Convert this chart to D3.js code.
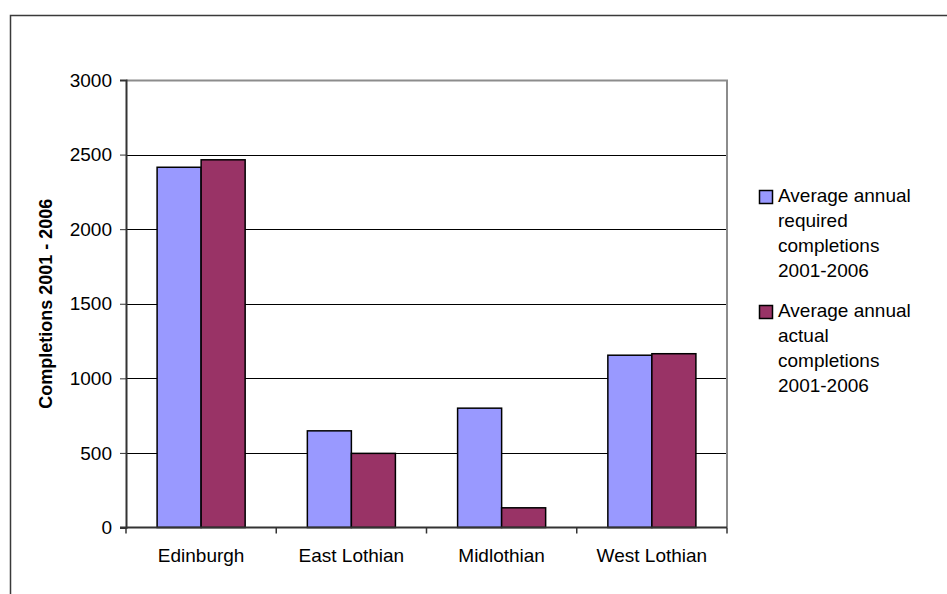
<!DOCTYPE html>
<html>
<head>
<meta charset="utf-8">
<script src="https://cdn.jsdelivr.net/npm/d3@7/dist/d3.min.js"></script>
<style>
  html, body { margin: 0; padding: 0; background: #fff; }
  svg { display: block; font-family: "Liberation Sans", Arial, sans-serif; }
</style>
</head>
<body>
<svg id="chart" width="947" height="594"></svg>
<script>
// Housing completions by council area, 2001-2006
const areas = ["Edinburgh", "East Lothian", "Midlothian", "West Lothian"];
const seriesNames = ["required", "actual"];
const requiredCompletions = [2415, 648, 800, 1155];
const actualCompletions = [2465, 497, 132, 1165];
const yTicks = [0, 500, 1000, 1500, 2000, 2500, 3000];
const legendLines = [
  ["Average annual", "required", "completions", "2001-2006"],
  ["Average annual", "actual", "completions", "2001-2006"]
];
const yTitle = "Completions 2001 - 2006";
const colors = ["#9999ff", "#993366"];

const fontSize = 19;
const svg = d3.select("#chart");

// outer chart frame (top and left edges visible)
svg.append("path")
  .attr("d", "M10.5,594 V15.5 H947")
  .attr("fill", "none")
  .attr("stroke", "#3a3a3a")
  .attr("stroke-width", 1.5);

const plot = { left: 126, right: 727, top: 80, bottom: 527.5 };

const x0 = d3.scaleBand().domain(areas).range([plot.left, plot.right]);
const bw = x0.bandwidth();
const x1 = d3.scaleBand().domain(seriesNames).range([bw * 0.207, bw * 0.793]);
const y = d3.scaleLinear().domain([0, 3000]).range([plot.bottom, plot.top]);

// gridlines
svg.append("g")
  .selectAll("line")
  .data(yTicks.filter(t => t > 0 && t < 3000))
  .join("line")
  .attr("x1", plot.left).attr("x2", plot.right)
  .attr("y1", d => Math.round(y(d)) + 0.5).attr("y2", d => Math.round(y(d)) + 0.5)
  .attr("stroke", "#000").attr("stroke-width", 1);

// plot area border (top and right)
svg.append("path")
  .attr("d", `M${plot.left},${plot.top + 0.5} H${plot.right} V${plot.bottom}`)
  .attr("fill", "none")
  .attr("stroke", "#8c8c8c")
  .attr("stroke-width", 2);

// bars
const data = areas.map((a, i) => ({ area: a, values: [requiredCompletions[i], actualCompletions[i]] }));
const groups = svg.append("g").selectAll("g")
  .data(data)
  .join("g")
  .attr("transform", d => `translate(${x0(d.area)},0)`);

groups.selectAll("rect")
  .data(d => d.values.map((v, j) => ({ key: seriesNames[j], value: v, j })))
  .join("rect")
  .attr("x", d => x1(d.key))
  .attr("y", d => y(d.value))
  .attr("width", x1.bandwidth())
  .attr("height", d => plot.bottom - y(d.value))
  .attr("fill", d => colors[d.j])
  .attr("stroke", "#000")
  .attr("stroke-width", 1.5);

// y axis
const yAxis = d3.axisLeft(y)
  .tickValues(yTicks)
  .tickSize(6)
  .tickPadding(8)
  .tickFormat(d3.format("d"));
const gy = svg.append("g")
  .attr("transform", `translate(${plot.left},0)`)
  .call(yAxis);
gy.select(".domain").attr("stroke", "#333").attr("stroke-width", 2);
gy.selectAll(".tick line").attr("stroke", "#333");
gy.selectAll(".tick text")
  .attr("font-size", fontSize)
  .attr("fill", "#000")
  .attr("font-family", "Liberation Sans, Arial, sans-serif");

// x axis: ticks at category boundaries, labels centred in each band
const gx = svg.append("g");
gx.append("line")
  .attr("x1", plot.left - 6).attr("x2", plot.right)
  .attr("y1", plot.bottom).attr("y2", plot.bottom)
  .attr("stroke", "#333").attr("stroke-width", 2);
const boundaries = areas.map(a => x0(a)).concat([plot.right]);
gx.selectAll("line.tk")
  .data(boundaries)
  .join("line")
  .attr("class", "tk")
  .attr("x1", d => d).attr("x2", d => d)
  .attr("y1", plot.bottom).attr("y2", plot.bottom + 6)
  .attr("stroke", "#333").attr("stroke-width", 1.5);
gx.selectAll("text")
  .data(areas)
  .join("text")
  .attr("x", d => x0(d) + bw / 2)
  .attr("y", 562)
  .attr("text-anchor", "middle")
  .attr("font-size", fontSize)
  .attr("fill", "#000")
  .text(d => d);

// y axis title
svg.append("text")
  .attr("transform", `translate(52,${(plot.top + plot.bottom) / 2}) rotate(-90)`)
  .attr("text-anchor", "middle")
  .attr("font-size", 18)
  .attr("font-weight", "bold")
  .attr("fill", "#000")
  .text(yTitle);

// legend
const legend = svg.append("g");
const entryTop = [202, 317];
legendLines.forEach((lines, i) => {
  legend.append("rect")
    .attr("x", 759.5).attr("y", entryTop[i] - 11.5)
    .attr("width", 13).attr("height", 13)
    .attr("fill", colors[i])
    .attr("stroke", "#000").attr("stroke-width", 1.5);
  legend.append("g").selectAll("text")
    .data(lines)
    .join("text")
    .attr("x", 778)
    .attr("y", (d, k) => entryTop[i] + k * 25)
    .attr("font-size", fontSize)
    .attr("fill", "#000")
    .text(d => d);
});
</script>
</body>
</html>
